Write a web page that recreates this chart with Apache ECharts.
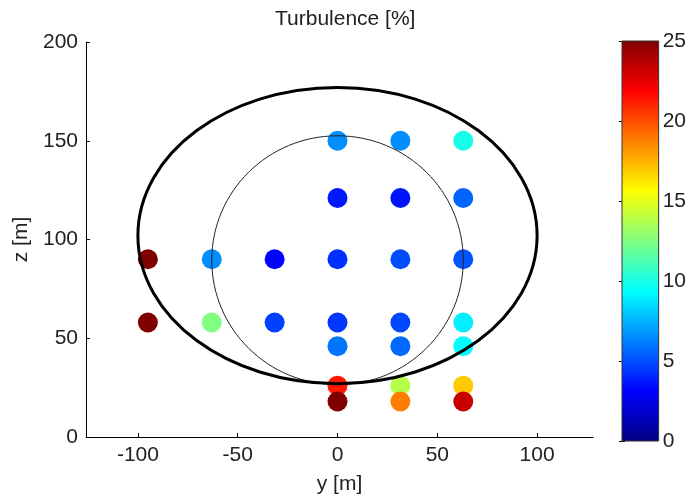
<!DOCTYPE html>
<html>
<head>
<meta charset="utf-8">
<script src="https://cdn.jsdelivr.net/npm/echarts@6/dist/echarts.min.js"></script>
<style>html,body{margin:0;padding:0;background:#fff}#c{width:689px;height:500px}</style>
</head>
<body>
<div id="c"></div>
<script>
// ---- data ----
var yPos = [0, 31.5, 63,  0, 31.5, 63,  -95, -63, -31.5, 0, 31.5, 63,  -95, -63, -31.5, 0, 31.5, 63,  0, 31.5, 63,  0, 31.5, 63,  0, 31.5, 63];
var zPos = [150, 150, 150,  121, 121, 121,  90, 90, 90, 90, 90, 90,  58, 58, 58, 58, 58, 58,  46, 46, 46,  26, 26, 26,  18, 18, 18];
var turbulence = [6.6, 6.6, 9.9,  3.7, 3.6, 5.6,  25, 6.6, 3.2, 4.3, 5.0, 5.2,  25, 12.5, 4.7, 4.5, 4.8, 9.0,  6.0, 5.7, 9.3,  21.3, 13.8, 16.9,  25, 18.8, 23.2];
var xTicks = [-100, -50, 0, 50, 100];
var yTicks = [0, 50, 100, 150, 200];
var cbTicks = [0, 5, 10, 15, 20, 25];
var ellipse = [0, 102, 100, 75];   // center y, center z, semi-axis y, semi-axis z
var circle = [0, 89.5, 63, 63];    // center y, center z, radius
var cbRange = [0, 25];
var jet = ['#000080', '#0000ff', '#0080ff', '#00ffff', '#80ff80', '#ffff00', '#ff8000', '#ff0000', '#800000'];

var points = yPos.map(function (y, i) { return [y, zPos[i], turbulence[i]]; });
var FONT = 'Liberation Sans';
var TXT = '#222';

function shapeItem(lw, color) {
  return function (params, api) {
    var c = api.coord([api.value(0), api.value(1)]);
    var s = api.size([api.value(2), api.value(3)]);
    return {
      type: 'ellipse',
      shape: { cx: c[0], cy: c[1], rx: s[0], ry: s[1] },
      style: { fill: null, stroke: color, lineWidth: lw }
    };
  };
}

var chart = echarts.init(document.getElementById('c'));
chart.setOption({
  animation: false,
  title: {
    text: 'Turbulence [%]', left: 270, top: 4,
    textStyle: { fontFamily: FONT, fontSize: 21, fontWeight: 'normal', color: TXT }
  },
  grid: [
    { left: 86, top: 42, width: 507, height: 396 },
    { left: 622, top: 41, width: 38, height: 400 }
  ],
  xAxis: [
    {
      type: 'value', gridIndex: 0, min: -126, max: 128,
      name: 'y [m]', nameLocation: 'middle', nameGap: 37,
      nameTextStyle: { fontFamily: FONT, fontSize: 21, color: TXT },
      axisLine: { show: true, onZero: false, lineStyle: { color: '#000', width: 1 } },
      axisTick: { show: true, inside: true, length: 4, customValues: xTicks, lineStyle: { color: '#000' } },
      axisLabel: { customValues: xTicks, margin: 8, fontFamily: FONT, fontSize: 21, color: TXT },
      splitLine: { show: false }
    },
    { type: 'value', gridIndex: 1, min: 0, max: 1, show: false }
  ],
  yAxis: [
    {
      type: 'value', gridIndex: 0, min: 0, max: 200, interval: 50,
      name: 'z [m]', nameLocation: 'middle', nameGap: 52,
      nameTextStyle: { fontFamily: FONT, fontSize: 21, color: TXT },
      axisLine: { show: true, onZero: false, lineStyle: { color: '#000', width: 1 } },
      axisTick: { show: true, inside: true, length: 4, customValues: yTicks, lineStyle: { color: '#000' } },
      axisLabel: { customValues: yTicks, margin: 8, fontFamily: FONT, fontSize: 21, color: TXT },
      splitLine: { show: false }
    },
    {
      type: 'value', gridIndex: 1, min: 0, max: 25, interval: 5, position: 'right',
      axisLine: { show: false },
      axisTick: { show: true, inside: true, length: 3, customValues: cbTicks, lineStyle: { color: '#000' } },
      axisLabel: { customValues: cbTicks, margin: 4, fontFamily: FONT, fontSize: 21, color: TXT },
      splitLine: { show: false }
    },
    {
      type: 'value', gridIndex: 1, min: 0, max: 25, interval: 5, position: 'left',
      axisLine: { show: false },
      axisTick: { show: true, inside: true, length: 3, customValues: cbTicks, lineStyle: { color: '#000' } },
      axisLabel: { show: false },
      splitLine: { show: false }
    }
  ],
  visualMap: {
    show: false, type: 'continuous', seriesIndex: 0, dimension: 2,
    min: 0, max: 25, inRange: { color: jet }
  },
  series: [
    {
      type: 'scatter', xAxisIndex: 0, yAxisIndex: 0, data: points,
      symbolSize: 20, z: 2, itemStyle: { opacity: 1 }
    },
    {
      type: 'custom', xAxisIndex: 0, yAxisIndex: 0, data: [ellipse],
      encode: { x: 0, y: 1 }, renderItem: shapeItem(3, '#000'), z: 5, silent: true
    },
    {
      type: 'custom', xAxisIndex: 0, yAxisIndex: 0, data: [circle],
      encode: { x: 0, y: 1 }, renderItem: shapeItem(1, '#222'), z: 4, silent: true
    },
    {
      type: 'custom', xAxisIndex: 1, yAxisIndex: 1, data: [[0, cbRange[0], 1, cbRange[1]]],
      encode: { x: [0, 2], y: [1, 3] }, z: 1, silent: true,
      renderItem: function (params, api) {
        var p0 = api.coord([api.value(0), api.value(1)]);
        var p1 = api.coord([api.value(2), api.value(3)]);
        var stops = jet.map(function (c, i) { return { offset: i / (jet.length - 1), color: c }; });
        return {
          type: 'rect',
          shape: { x: p0[0], y: p1[1], width: p1[0] - p0[0], height: p0[1] - p1[1] },
          style: {
            fill: new echarts.graphic.LinearGradient(0, 1, 0, 0, stops),
            stroke: '#333', lineWidth: 1
          }
        };
      }
    }
  ]
});
</script>
</body>
</html>
